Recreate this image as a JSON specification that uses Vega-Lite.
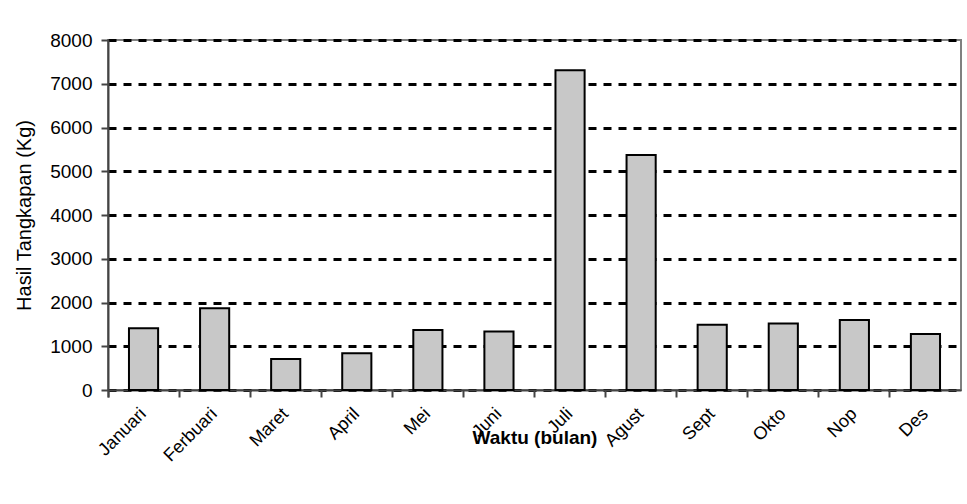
{
  "$schema": "https://vega.github.io/schema/vega-lite/v6.json",
  "width": 853,
  "height": 350,
  "autosize": {"type": "none"},
  "padding": {"left": 108, "top": 40, "right": 6, "bottom": 114},
  "background": "white",
  "config": {
    "font": "Liberation Sans",
    "view": {"stroke": "#808080", "strokeWidth": 2}
  },
  "data": {
    "values": [
      {"bulan": "Januari", "hasil": 1410},
      {"bulan": "Ferbuari", "hasil": 1870},
      {"bulan": "Maret", "hasil": 710},
      {"bulan": "April", "hasil": 840},
      {"bulan": "Mei", "hasil": 1370},
      {"bulan": "Juni", "hasil": 1340},
      {"bulan": "Juli", "hasil": 7310},
      {"bulan": "Agust", "hasil": 5370},
      {"bulan": "Sept", "hasil": 1490},
      {"bulan": "Okto", "hasil": 1520},
      {"bulan": "Nop", "hasil": 1600},
      {"bulan": "Des", "hasil": 1280}
    ]
  },
  "mark": {"type": "bar", "width": {"band": 0.41}, "fill": "#c8c8c8", "stroke": "black", "strokeWidth": 2},
  "encoding": {
    "x": {
      "field": "bulan",
      "type": "nominal",
      "sort": null,
      "scale": {"paddingInner": 0, "paddingOuter": 0},
      "axis": {
        "title": "Waktu (bulan)",
        "titleFont": "Liberation Sans",
        "titleFontSize": 19,
        "titleFontWeight": "bold",
        "titleColor": "black",
        "titleBaseline": "middle",
        "titleY": 47,
        "labelAngle": -45,
        "labelAlign": "right",
        "labelBaseline": "middle",
        "labelFontSize": 18,
        "labelColor": "black",
        "labelPadding": 14,
        "labelOffset": 0,
        "bandPosition": 0,
        "tickExtra": true,
        "ticks": true,
        "tickSize": 7,
        "tickColor": "#444",
        "tickWidth": 2,
        "domainColor": "#444",
        "domainWidth": 2,
        "grid": false
      }
    },
    "y": {
      "field": "hasil",
      "type": "quantitative",
      "scale": {"domain": [0, 8000], "nice": false},
      "axis": {
        "title": "Hasil Tangkapan (Kg)",
        "titleFont": "Liberation Sans",
        "titleFontSize": 20,
        "titleFontWeight": "normal",
        "titleColor": "black",
        "titleBaseline": "middle",
        "titleX": -84,
        "values": [0, 1000, 2000, 3000, 4000, 5000, 6000, 7000, 8000],
        "format": "d",
        "labelFontSize": 19,
        "labelColor": "black",
        "labelPadding": 9,
        "tickSize": 7,
        "tickColor": "#444",
        "tickWidth": 2,
        "domainColor": "#444",
        "domainWidth": 2,
        "grid": true,
        "gridColor": "black",
        "gridWidth": 3,
        "gridDash": [8, 7],
        "gridOpacity": 1
      }
    }
  }
}
